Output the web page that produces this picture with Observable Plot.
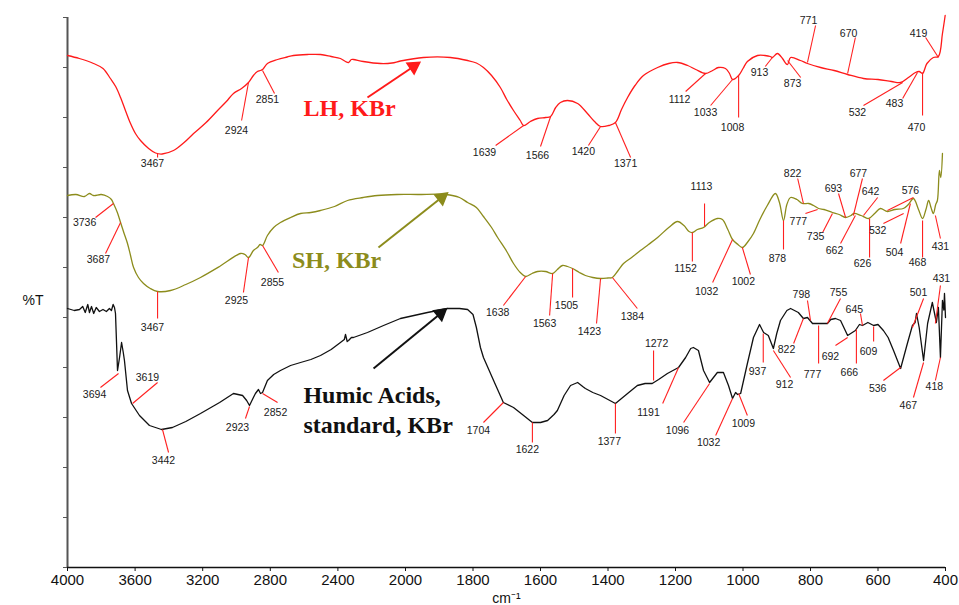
<!DOCTYPE html>
<html><head><meta charset="utf-8">
<script src="https://cdn.jsdelivr.net/npm/d3@7"></script>
<script src="https://cdn.jsdelivr.net/npm/@observablehq/plot@0.6"></script>
<style>body{margin:0;background:#fff}</style>
</head><body><div id="chart"></div>
<script>
// x axis: wavenumber (cm-1), split scale (step 400 above 2000, 200 below)
const xTicks = [4000,3600,3200,2800,2400,2000,1800,1600,1400,1200,1000,800,600,400];
const yTicks = [0,10,20,30,40,50,60,70,80,90,100,110];

// LH, KBr (red)
const lhWave = [4000,3930,3846,3790,3746,3715,3686,3655,3627,3598,3568,3520,3479,3440,3373,3310,3254,3180,3112,3060,3018,2970,2929,2900,2876,2860,2846,2817,2757,2700,2663,2580,2503,2440,2385,2355,2337,2320,2308,2250,2148,2080,2030,1947,1867,1816,1790,1769,1745,1719,1700,1680,1660,1650,1630,1609,1585,1570,1555,1541,1520,1490,1461,1440,1422,1398,1378,1360,1342,1320,1295,1253,1220,1194,1164,1140,1111,1090,1073,1052,1040,1031,1013,1000,987,957,935,919,913,898,883,873,868,859,830,809,770,730,690,643,600,560,533,510,489,478,468,455,436,421,409,401];
const lhT = [102.4,101.8,100.8,99.8,97.8,96.2,94,91.2,88.8,86.8,85.4,83.8,82.9,82.7,83.4,85,86.8,89,91.4,93.2,94.8,95.8,97,98.4,99.2,99.4,99.6,100.8,101.6,102.1,102.4,102.6,102.6,102.2,101.8,101.2,101,101.6,101.6,101.2,100.8,100.9,101.3,102,102,101.4,100.9,100,98.4,96,93.6,91.4,89.4,88.4,89.2,89.8,90,90.2,92,93,93.4,92.8,90.8,89.2,88.2,88.4,89,91.6,94,96.4,98.4,100,100.8,101,100.4,99.6,98.8,99.4,100,99.8,98.8,97.6,98.4,99.8,101.2,102.4,102.4,102.2,102,102.8,101.8,100.8,100.6,102,101.4,100.8,100,99.4,98.6,97.8,97.6,97.2,97,98,99,99.2,98.8,100.8,102,102.2,106.8,110.4];

// SH, KBr (olive)
const shWave = [4000,3950,3900,3870,3846,3800,3763,3740,3728,3705,3686,3665,3645,3627,3609,3580,3550,3510,3467,3390,3300,3213,3100,2976,2950,2929,2900,2876,2860,2846,2817,2780,2740,2680,2621,2560,2503,2420,2343,2250,2166,2050,1964,1881,1840,1816,1790,1769,1745,1727,1700,1680,1660,1644,1625,1609,1585,1564,1550,1535,1520,1505,1485,1467,1445,1422,1400,1387,1370,1354,1330,1304,1280,1253,1220,1194,1175,1160,1150,1135,1117,1100,1076,1061,1045,1031,1015,1002,985,969,950,928,904,892,880,870,859,840,824,805,791,776,760,735,715,696,680,672,650,628,610,593,572,550,525,510,495,480,468,458,450,443,436,429,424,418,414,409];
const shT = [74.4,74.6,74.2,74.8,74.4,74.6,74.2,73.6,72.8,71,69,66.8,64.8,62.4,60,58,56.8,55.8,55.2,55.4,56.6,58,60.2,62.8,62.6,62,63.4,64,64.6,64.4,66.4,68,69,70,70.8,71,71.4,72.2,73.4,74,74.4,74.6,74.6,74.6,74,73,72,70.2,68,66,63.2,60.8,59,58.2,58.8,59.2,59.2,58.8,59.6,60.4,60.2,59.8,59,58.4,58,57.8,57.9,58,59.4,60.8,62,63.4,64.6,66,68,69.2,68.4,67.2,67,67.6,68,69,69.8,69.6,67.6,65.6,64.6,64,65.2,66.8,69.6,72.4,74.8,73,69.4,72.6,74,73.6,72.8,72.8,72.4,71.8,71.6,71,70.6,70,70.4,70.8,70.4,69.8,70.8,71.8,71.2,71.6,71.8,72.6,73.8,71.6,69.8,71.6,73.4,72,70.8,72.6,73.4,79.4,78,82.8];

// Humic Acids, standard, KBr (black)
const haWave = [4000,3960,3929,3910,3895,3880,3870,3858,3845,3830,3811,3790,3770,3752,3740,3730,3722,3716,3704,3692,3680,3670,3663,3645,3621,3574,3515,3444,3379,3300,3213,3100,3018,2964,2940,2923,2900,2888,2870,2858,2846,2817,2780,2740,2680,2621,2560,2503,2440,2385,2362,2355,2345,2337,2320,2308,2225,2130,2030,1935,1875,1840,1816,1800,1790,1778,1769,1739,1710,1680,1650,1624,1600,1579,1560,1550,1530,1511,1490,1475,1467,1445,1422,1400,1378,1360,1342,1313,1290,1269,1250,1224,1191,1170,1155,1147,1132,1117,1099,1076,1058,1043,1031,1022,1016,1007,987,969,951,939,925,910,900,889,870,859,836,821,809,794,776,750,740,726,711,690,667,655,646,630,613,600,584,570,554,533,513,498,490,486,478,465,453,439,427,421,415,409,405,403,400];
const haT = [51.8,51.4,51.6,52.2,51,52.6,51,52.2,50.8,52,51.2,51.6,51.2,51.8,51.4,52.6,52,50.8,39.4,42,45,43,41.4,35.4,32.8,30.4,28.4,27.6,28,29.2,30.8,33,34.8,34.4,33.4,32.4,34,34.8,35.6,34.8,35,37.4,38.6,39.4,40.4,41,41.6,42.4,43.6,45,45.6,46.6,45.2,45.4,46,46,47,48.4,49.8,51,51.8,51.8,51.6,50.6,48,44,42,37.4,33,32,30.4,29,29,29.4,30.6,31.4,34.4,36.4,37,36.2,35.8,35,34.4,33.6,32.8,33.8,34.8,36.4,36.8,36.8,37.6,38.8,40,42,43.8,44,43.4,39.4,37,39,39,36.4,33.8,35,34.6,34.8,40.8,46,48.6,47,46.4,43.8,46.8,49.4,51.4,51.8,51,49.8,50,48.8,48.8,48.8,49.6,49.8,49.4,46.4,47.4,48.6,48.4,49,48.4,48.6,47.4,46,43.4,39.8,44.8,48.4,49,50.8,48,41.4,48.8,53,49,52,42,53.4,51.5,54.8,50];

// Peak labels: [label, curve wavenumber, curve %T, line-end wavenumber, line-end %T, label wavenumber, label %T]
const lhPeaks = [
 ["3467",3467,82.8,3467,82,3497,80.8],["2924",2929,97,2970,89.4,3000,87.4],["2851",2846,99.4,2775,94.8,2817,93.6],
 ["1639",1650,88.4,1733,84.4,1766,83],["1566",1570,90.2,1600,84.2,1609,82.4],["1420",1422,88.2,1458,84.4,1473,83.2],
 ["1371",1378,89,1333,82,1348,80.8],["1112",1111,98.8,1170,95.2,1188,93.6],["1033",1031,97.6,1096,92.4,1111,91],
 ["1008",1013,98.4,1013,90,1031,88],["913",913,102,934,100.2,951,99],["873",868,101.4,829,98,853,96.8],
 ["771",809,101,785,108.4,806,109.4],["670",690,98.8,667,106,687,106.8],["532",527,97,643,92.4,661,91],
 ["483",483,99,527,93.8,551,92.8],["470",468,99,468,90.4,486,88],["419",421,102,459,106,480,106.8]
];
const shPeaks = [
 ["3736",3728,72.8,3834,70,3899,69],["3687",3686,69,3775,62.8,3817,61.6],["3467",3467,55.2,3467,49.8,3497,48],
 ["2925",2929,62,2959,55,3000,53.4],["2855",2846,64.4,2752,59,2787,57],["1638",1644,58.2,1710,52.4,1727,51],
 ["1563",1564,58.8,1573,50.4,1588,48.8],["1505",1505,59.8,1505,54,1523,52.4],["1423",1422,57.8,1434,48.8,1455,47.2],
 ["1384",1387,58,1313,51.8,1328,50.2],["1152",1150,67,1150,61.2,1170,59.8],["1113",1114,68.2,1114,72.8,1123,76.2],
 ["1032",1031,65.6,1090,57,1108,55.2],["1002",1002,64,978,58.6,999,57.2],["878",880,69.4,880,63.6,898,61.8],
 ["822",821,72.8,838,77.8,853,78.8],["777",779,71.6,815,70.8,836,69.2],["735",735,70.8,764,67,785,66.2],
 ["693",696,70,717,74.8,732,75.8],["677",673,70.4,646,77.8,658,78.8],["642",643,70.4,601,74,622,75.2],
 ["662",667,70.4,711,64.8,729,63.4],["626",625,69.8,625,62,646,60.8],["532",524,70.8,584,68.8,601,67.4],
 ["576",572,71.4,495,74,504,75.4],["504",504,72.8,533,64.8,551,63],["468",468,69.4,468,62,483,61],
 ["431",430,70.4,415,65.8,415,64.2]
];
const haPeaks = [
 ["3694",3698,38.8,3805,36,3840,34.6],["3619",3615,32.8,3467,37,3527,38],["3442",3438,27.6,3402,23,3432,21.4],
 ["2923",2923,32.2,2947,29.8,2994,28],["2852",2846,34.8,2757,33,2769,31],["1704",1710,33,1769,29,1784,27.4],
 ["1622",1624,29,1624,25,1639,23.6],["1377",1378,32.8,1378,26.8,1396,25.2],["1272",1265,37.4,1265,43.4,1256,44.8],
 ["1191",1191,40,1238,32.8,1280,31],["1096",1099,36.8,1176,29,1194,27.4],["1032",1031,33.8,1081,26.4,1102,25],
 ["1009",1013,34.8,987,30.4,999,28.8],["937",940,46.8,940,41,957,39.2],["912",910,43.4,859,38,877,36.6],
 ["822",821,49.8,850,44.8,871,43.6],["798",800,49.4,809,53.4,827,54.6],["777",776,48.4,776,40.8,794,38.6],
 ["755",750,48.8,711,53.8,717,55],["692",690,46,726,44.4,741,42.2],["645",646,48.4,652,50.8,670,51.6],
 ["666",664,47.6,664,40.8,685,39],["609",613,48.2,613,45.2,628,43.2],["536",533,40,584,37.4,601,35.8],
 ["501",498,48,465,53.8,480,55],["467",465,41,495,34,510,32.4],["431",430,48.8,415,56.4,412,57.8],
 ["418",415,42,430,37.4,433,36.2]
];

// Series names and their label / arrow positions (wavenumber, %T)
const seriesNames = ["LH, KBr", "SH, KBr", "Humic Acids,\nstandard, KBr"];
const seriesColors = ["#ff1a1a", "#8c8c1c", "#111111"];
const nameWave = [2331, 2408, 2604];
const nameT = [91.8, 61.4, 31.8];
const arrowFromWave = [2225, 2160, 2189];
const arrowFromT = [94, 64, 39.8];
const arrowToWave = [1976, 1893, 1896];
const arrowToT = [100.2, 74, 50.8];
const arrowAngle = [56, 52, 51];

const toPts = (w, t) => w.map((x, i) => ({w: x, t: t[i]}));
const lh = toPts(lhWave, lhT), sh = toPts(shWave, shT), ha = toPts(haWave, haT);
const peaks = [...lhPeaks, ...shPeaks, ...haPeaks].map(p => ({label: p[0], aw: p[1], at: p[2], ew: p[3], et: p[4], tw: p[5], tt: p[6]}));
const names = seriesNames.map((n, i) => ({name: n, color: seriesColors[i], w: nameWave[i], t: nameT[i],
  fw: arrowFromWave[i], ft: arrowFromT[i], tw: arrowToWave[i], tt: arrowToT[i], ang: arrowAngle[i]}));

const chart = Plot.plot({
  width: 959, height: 605,
  marginLeft: 67, marginRight: 14, marginTop: 17, marginBottom: 38,
  style: {fontFamily: "Liberation Sans, Arial, sans-serif", fontSize: "15px", background: "#fff", color: "#111"},
  x: {type: "linear", domain: [4000, 2000, 400], range: [67, 405, 945]},
  y: {domain: [0, 110]},
  marks: [
    Plot.axisX({ticks: xTicks, tickFormat: d => String(d), tickSize: 4, tickPadding: 3, label: null, fontSize: 15, stroke: "#111"}),
    Plot.axisY({ticks: yTicks, tickSize: 4, tickFormat: () => "", label: null, stroke: "#555"}),
    Plot.ruleX([4000], {stroke: "#555", strokeWidth: 2}),
    Plot.ruleY([0], {stroke: "#111", strokeWidth: 1.5}),
    Plot.line(lh, {x: "w", y: "t", stroke: seriesColors[0], strokeWidth: 1.3, curve: "catmull-rom"}),
    Plot.line(sh, {x: "w", y: "t", stroke: seriesColors[1], strokeWidth: 1.3, curve: "catmull-rom"}),
    Plot.line(ha, {x: "w", y: "t", stroke: seriesColors[2], strokeWidth: 1.3, curve: "linear"}),
    Plot.link(peaks, {x1: "aw", y1: "at", x2: "ew", y2: "et", stroke: "#ff2020", strokeWidth: 1.1}),
    Plot.text(peaks, {x: "tw", y: "tt", text: "label", fontSize: 10.5, fill: "#1a1a1a"}),
    Plot.link(names, {x1: "fw", y1: "ft", x2: "tw", y2: "tt", stroke: "color", strokeWidth: 2}),
    Plot.dot(names, {x: "tw", y: "tt", symbol: "triangle", r: 4.8, fill: "color", stroke: "color", rotate: "ang"}),
    Plot.text(names.slice(0, 2), {x: "w", y: "t", text: "name", fill: "color", fontSize: 24, fontWeight: "bold", fontFamily: "Liberation Serif, Times New Roman, serif"}),
    Plot.text(names.slice(2), {x: "w", y: "t", text: "name", fill: "color", fontSize: 24, fontWeight: "bold", textAnchor: "start", lineHeight: 1.25, fontFamily: "Liberation Serif, Times New Roman, serif"}),
    Plot.text(["%T"], {frameAnchor: "left", dx: -45, dy: 8, fontSize: 14, fill: "#111"}),
    Plot.text(["cm⁻¹"], {frameAnchor: "bottom", dy: 35, fontSize: 14, fill: "#111"})
  ]
});
document.getElementById("chart").appendChild(chart);
</script>
</body></html>
